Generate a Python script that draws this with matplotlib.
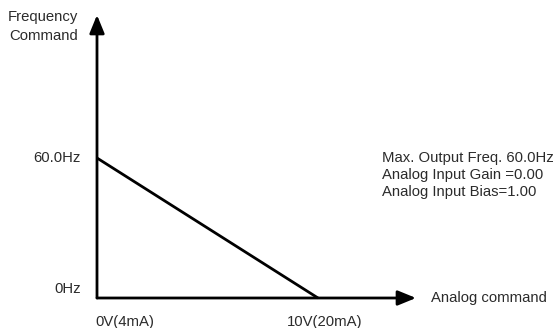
import matplotlib
matplotlib.use("Agg")
import matplotlib.pyplot as plt

# Analog input (V) vs. frequency command (Hz)
analog_v = [0, 10]
freq_hz = [60.0, 0.0]
y_tick_vals = [60.0, 0.0]
y_tick_labels = ["60.0Hz", "0Hz"]
x_tick_vals = [0, 10]
x_tick_labels = ["0V(4mA)", "10V(20mA)"]
notes = ["Max. Output Freq. 60.0Hz", "Analog Input Gain =0.00", "Analog Input Bias=1.00"]

W, H = 557, 328
fig = plt.figure(figsize=(W / 100, H / 100), dpi=100)
ax = fig.add_axes([0, 0, 1, 1])
ax.set_axis_off()

# pixel geometry of the plotting frame
x0_px, x10_px = 97, 318
y0_px, y60_px = 298, 158
sx = (x10_px - x0_px) / 10.0
sy = (y0_px - y60_px) / 60.0
ax.set_xlim(-x0_px / sx, (W - x0_px) / sx)
ax.set_ylim(-(H - y0_px) / sy, y0_px / sy)

def px_x(p):
    return (p - x0_px) / sx

def px_y(p):
    return (y0_px - p) / sy

font = "Liberation Sans"
fs = 10.7
tc = "#2b2b2b"

# axes with arrowheads
arrow = dict(arrowstyle="-|>,head_length=1.1,head_width=0.45", color="black", lw=2,
             shrinkA=0, shrinkB=0)
ax.annotate("", xy=(0, px_y(15)), xytext=(0, 0), arrowprops=arrow)
ax.annotate("", xy=(px_x(416), 0), xytext=(0, 0), arrowprops=arrow)

# characteristic line
ax.plot(analog_v, freq_hz, color="black", lw=2, solid_capstyle="butt")

# y labels
for v, lab in zip(y_tick_vals, y_tick_labels):
    off = 0 if v else px_y(289) - px_y(298)
    ax.text(px_x(81), v + off, lab, ha="right", va="center", fontsize=fs,
            family=font, color=tc)

# x labels
x_centers = [125, 325]
for cx, lab in zip(x_centers, x_tick_labels):
    ax.text(px_x(cx), px_y(322), lab, ha="center", va="center", fontsize=fs,
            family=font, color=tc)

ax.text(px_x(8), px_y(17), "Frequency", ha="left", va="center", fontsize=fs,
        family=font, color=tc)
ax.text(px_x(9), px_y(36), "Command", ha="left", va="center", fontsize=fs,
        family=font, color=tc)
ax.text(px_x(431), px_y(298), "Analog command", ha="left", va="center",
        fontsize=fs, family=font, color=tc)

for i, line in enumerate(notes):
    ax.text(px_x(382), px_y(158 + 17 * i), line, ha="left", va="center",
            fontsize=fs, family=font, color=tc)

fig.savefig("out.png", dpi=100)
